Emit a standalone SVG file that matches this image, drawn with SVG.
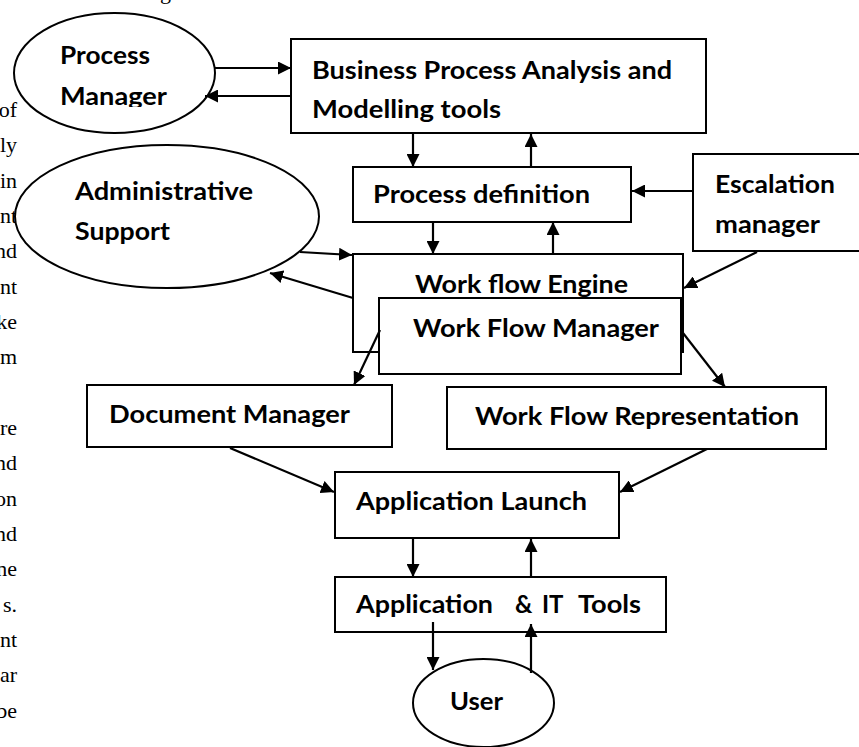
<svg xmlns="http://www.w3.org/2000/svg" width="859" height="747" viewBox="0 0 859 747">
<style>
.box{fill:#fff;stroke:#000;stroke-width:2}
.lbl{font-family:Lato,"Open Sans","Liberation Sans",sans-serif;font-weight:bold;font-size:24px;fill:#000}
.bg{font-family:"Liberation Serif","Times New Roman",serif;font-size:22px;fill:#000;text-anchor:end}
.con{stroke:#000;stroke-width:2.2;fill:none;marker-end:url(#ah)}
</style>
<defs>
<marker id="ah" viewBox="0 0 10 10" refX="10" refY="5" markerWidth="13" markerHeight="13" markerUnits="userSpaceOnUse" orient="auto">
<path d="M0,0 L10,5 L0,10 z" fill="#000"/>
</marker>
<clipPath id="pmclip"><rect x="0" y="0" width="300" height="107"/></clipPath>
</defs>
<rect width="859" height="747" fill="#fff"/>
<g id="page-text">
<text class="bg" x="160" y="-1" style="text-anchor:start">g</text>
<text class="bg" x="17" y="117">of</text>
<text class="bg" x="17" y="152">ly</text>
<text class="bg" x="17" y="188">in</text>
<text class="bg" x="17" y="223">nt</text>
<text class="bg" x="17" y="258">nd</text>
<text class="bg" x="17" y="294">nt</text>
<text class="bg" x="17" y="329">ke</text>
<text class="bg" x="17" y="364">m</text>
<text class="bg" x="17" y="435">re</text>
<text class="bg" x="17" y="470">nd</text>
<text class="bg" x="17" y="506">on</text>
<text class="bg" x="17" y="541">nd</text>
<text class="bg" x="17" y="576">ne</text>
<text class="bg" x="17" y="612">s.</text>
<text class="bg" x="17" y="647">nt</text>
<text class="bg" x="17" y="682">ar</text>
<text class="bg" x="17" y="718">be</text>
</g>
<g id="process-manager">
<ellipse class="box" cx="114.5" cy="73" rx="100.5" ry="60"/>
<text class="lbl" x="60" y="64" textLength="90" lengthAdjust="spacingAndGlyphs">Process</text>
<text class="lbl" x="60" y="105" textLength="107" lengthAdjust="spacingAndGlyphs" clip-path="url(#pmclip)">Manager</text>
</g>
<g id="bpa-tools">
<rect class="box" x="291" y="39" width="415" height="94"/>
<text class="lbl" x="312" y="79" textLength="360" lengthAdjust="spacingAndGlyphs">Business Process Analysis and</text>
<text class="lbl" x="312" y="118" textLength="189" lengthAdjust="spacingAndGlyphs">Modelling tools</text>
</g>
<g id="administrative-support">
<ellipse class="box" cx="167" cy="216.5" rx="152" ry="71.5"/>
<text class="lbl" x="75" y="200" textLength="178" lengthAdjust="spacingAndGlyphs">Administrative</text>
<text class="lbl" x="75" y="240" textLength="95" lengthAdjust="spacingAndGlyphs">Support</text>
</g>
<g id="process-definition">
<rect class="box" x="353" y="167" width="278" height="55"/>
<text class="lbl" x="373" y="203" textLength="217" lengthAdjust="spacingAndGlyphs">Process definition</text>
</g>
<g id="escalation-manager">
<rect class="box" x="693" y="154" width="170" height="97"/>
<text class="lbl" x="715" y="193" textLength="120" lengthAdjust="spacingAndGlyphs">Escalation</text>
<text class="lbl" x="715" y="233" textLength="105" lengthAdjust="spacingAndGlyphs">manager</text>
</g>
<g id="workflow-engine">
<rect class="box" x="353" y="254" width="330" height="98"/>
<text class="lbl" x="415" y="293" textLength="213" lengthAdjust="spacingAndGlyphs">Work flow Engine</text>
</g>
<g id="workflow-manager">
<rect class="box" x="379" y="298" width="302" height="76"/>
<text class="lbl" x="413" y="337" textLength="246" lengthAdjust="spacingAndGlyphs">Work Flow Manager</text>
</g>
<g id="document-manager">
<rect class="box" x="87" y="385" width="305" height="62"/>
<text class="lbl" x="109" y="423" textLength="241" lengthAdjust="spacingAndGlyphs">Document Manager</text>
</g>
<g id="workflow-representation">
<rect class="box" x="447" y="387" width="379" height="62"/>
<text class="lbl" x="475" y="425" textLength="324" lengthAdjust="spacingAndGlyphs">Work Flow Representation</text>
</g>
<g id="application-launch">
<rect class="box" x="335" y="472" width="284" height="66"/>
<text class="lbl" x="356" y="510" textLength="231" lengthAdjust="spacingAndGlyphs">Application Launch</text>
</g>
<g id="application-it-tools">
<rect class="box" x="335" y="577" width="331" height="55"/>
<text class="lbl" y="613"><tspan x="356" textLength="137" lengthAdjust="spacingAndGlyphs">Application</tspan><tspan x="515">&amp;</tspan><tspan x="542">IT</tspan><tspan x="578" textLength="63" lengthAdjust="spacingAndGlyphs">Tools</tspan></text>
</g>
<g id="user">
<ellipse class="box" cx="483.5" cy="703" rx="70.5" ry="44"/>
<text class="lbl" x="450" y="710" textLength="53" lengthAdjust="spacingAndGlyphs">User</text>
</g>
<g id="connectors">
<line class="con" x1="215" y1="68" x2="291" y2="68"/>
<line class="con" x1="291" y1="96" x2="205" y2="96"/>
<line class="con" x1="413" y1="133" x2="413" y2="167"/>
<line class="con" x1="531" y1="167" x2="531" y2="134"/>
<line class="con" x1="693" y1="191" x2="632" y2="191"/>
<line class="con" x1="433" y1="222" x2="433" y2="254"/>
<line class="con" x1="553" y1="254" x2="553" y2="222"/>
<line class="con" x1="300" y1="252" x2="352" y2="255"/>
<line class="con" x1="353" y1="298" x2="270" y2="273"/>
<line class="con" x1="757" y1="252" x2="684" y2="288"/>
<line class="con" x1="380" y1="330" x2="354" y2="385"/>
<line class="con" x1="683" y1="333" x2="725" y2="387"/>
<line class="con" x1="230" y1="448" x2="334" y2="492"/>
<line class="con" x1="707" y1="449" x2="620" y2="492"/>
<line class="con" x1="413" y1="538" x2="413" y2="577"/>
<line class="con" x1="531" y1="577" x2="531" y2="539"/>
<line class="con" x1="433" y1="622" x2="433" y2="670"/>
<line class="con" x1="531" y1="673" x2="531" y2="624"/>
</g>
</svg>
